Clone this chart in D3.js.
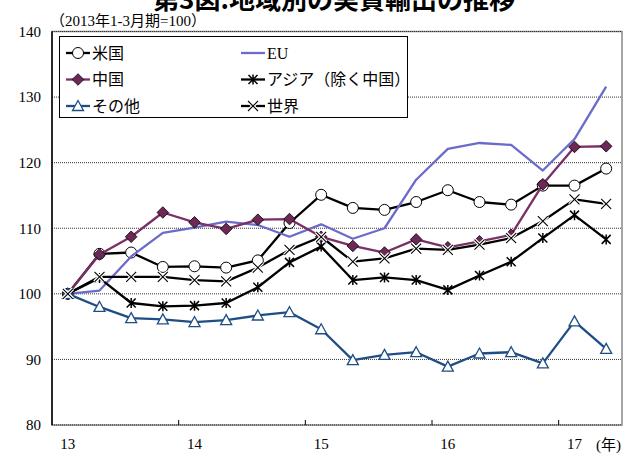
<!DOCTYPE html>
<html>
<head>
<meta charset="utf-8">
<script src="https://cdn.jsdelivr.net/npm/d3@7"></script>
<style>
  html, body { margin: 0; padding: 0; background: #fff; }
  svg { display: block; }
  .serif { font-family: "Liberation Serif", "Times New Roman", "Noto Sans CJK JP", serif; }
</style>
</head>
<body>
<svg id="chart" width="629" height="454"></svg>
<script>
// Quarterly real export indices by destination (2013 Q1 = 100)
const quarters = [
  "2013Q1","2013Q2","2013Q3","2013Q4",
  "2014Q1","2014Q2","2014Q3","2014Q4",
  "2015Q1","2015Q2","2015Q3","2015Q4",
  "2016Q1","2016Q2","2016Q3","2016Q4",
  "2017Q1","2017Q2"
];
const yearLabels = ["13", "14", "15", "16", "17"];
const yTicks = [80, 90, 100, 110, 120, 130, 140];

const usa   = [100, 106.1, 106.3, 104.1, 104.2, 104.0, 105.1, 110.8, 115.1, 113.1, 112.8, 114.0, 115.8, 114.0, 113.6, 116.5, 116.5, 119.1];
const eu    = [100, 100.5, 105.7, 109.3, 110.1, 111.0, 110.5, 108.7, 110.6, 108.4, 110.0, 117.4, 122.1, 123.0, 122.7, 118.8, 123.6, 131.6];
const china = [100, 106.0, 108.7, 112.4, 110.9, 109.9, 111.3, 111.4, 108.7, 107.3, 106.3, 108.3, 107.1, 108.0, 109.0, 116.7, 122.4, 122.5];
const asia  = [100, 102.4, 98.6, 98.1, 98.2, 98.6, 101.0, 104.8, 107.2, 102.1, 102.5, 102.1, 100.6, 102.8, 104.9, 108.5, 112.0, 108.3];
const other = [100, 98.0, 96.3, 96.1, 95.7, 96.0, 96.7, 97.2, 94.6, 89.9, 90.7, 91.1, 88.9, 90.9, 91.1, 89.4, 95.8, 91.6];
const world = [100, 102.6, 102.6, 102.6, 102.1, 101.9, 104.0, 106.7, 108.7, 104.9, 105.4, 106.9, 106.7, 107.5, 108.5, 111.1, 114.4, 113.7];

const seriesNames = ["米国", "EU", "中国", "アジア（除く中国）", "その他", "世界"];

const svg = d3.select("#chart");
const plotLeft = 52, plotRight = 622, plotTop = 31.5, plotBottom = 425;

const x = d3.scaleBand().domain(quarters).range([plotLeft, plotRight]);
const xc = q => x(q) + x.bandwidth() / 2;
const y = d3.scaleLinear().domain([80, 140]).range([plotBottom, plotTop]);

// Marker shapes
function drawMarker(g, kind, cx, cy) {
  if (kind === "circle") {
    g.append("circle").attr("cx", cx).attr("cy", cy).attr("r", 5.5)
      .attr("fill", "#fff").attr("stroke", "#000").attr("stroke-width", 1);
  } else if (kind === "diamond") {
    const r = 5.8;
    g.append("path")
      .attr("d", `M${cx},${cy - r}L${cx + r},${cy}L${cx},${cy + r}L${cx - r},${cy}Z`)
      .attr("fill", "#6E2858").attr("stroke", "#000").attr("stroke-width", 0.8);
  } else if (kind === "star") {
    const r = 4.5;
    g.append("path")
      .attr("d", `M${cx - r},${cy - r}L${cx + r},${cy + r}M${cx - r},${cy + r}L${cx + r},${cy - r}M${cx},${cy - r - 0.5}L${cx},${cy + r + 0.5}`)
      .attr("stroke", "#000").attr("stroke-width", 1.5).attr("fill", "none");
  } else if (kind === "triangle") {
    const w = 5.5, h1 = 5.5, h2 = 4.5;
    g.append("path")
      .attr("d", `M${cx},${cy - h1}L${cx + w},${cy + h2}L${cx - w},${cy + h2}Z`)
      .attr("fill", "#fff").attr("stroke", "#1F4E85").attr("stroke-width", 1.3);
  } else if (kind === "cross") {
    const r = 5;
    const d = `M${cx - r},${cy - r}L${cx + r},${cy + r}M${cx - r},${cy + r}L${cx + r},${cy - r}`;
    g.append("path").attr("d", d).attr("stroke", "#fff").attr("stroke-width", 3.5).attr("fill", "none");
    g.append("path").attr("d", d).attr("stroke", "#000").attr("stroke-width", 1.1).attr("fill", "none");
  }
}

const series = [
  { name: seriesNames[0], values: usa,   color: "#000",    marker: "circle" },
  { name: seriesNames[1], values: eu,    color: "#6B6BCB", marker: null },
  { name: seriesNames[2], values: china, color: "#7A3065", marker: "diamond" },
  { name: seriesNames[3], values: asia,  color: "#000",    marker: "star" },
  { name: seriesNames[4], values: other, color: "#1F4E85", marker: "triangle" },
  { name: seriesNames[5], values: world, color: "#000",    marker: "cross" }
];

// Title (sits partly above the top edge) and unit note
svg.append("text")
  .attr("x", 334).attr("y", 9)
  .attr("text-anchor", "middle")
  .attr("font-family", "'Noto Sans CJK JP', sans-serif")
  .attr("font-weight", "bold").attr("font-size", 26)
  .text("第3図:地域別の実質輸出の推移");

svg.append("text").attr("class", "serif")
  .attr("x", 50).attr("y", 26)
  .attr("font-size", 15)
  .text("（2013年1-3月期=100）");

// Plot frame and gridlines
svg.append("rect")
  .attr("x", plotLeft).attr("y", plotTop).attr("width", plotRight - plotLeft).attr("height", plotBottom - plotTop)
  .attr("fill", "#fff").attr("stroke", "#888").attr("stroke-width", 1.5);

svg.append("g").selectAll("line").data(yTicks).join("line")
  .attr("x1", plotLeft).attr("x2", plotRight)
  .attr("y1", d => y(d)).attr("y2", d => y(d))
  .attr("stroke", "#333").attr("stroke-width", 1).attr("stroke-dasharray", "1,1");

svg.append("line")
  .attr("x1", plotLeft).attr("x2", plotLeft).attr("y1", plotTop).attr("y2", plotBottom)
  .attr("stroke", "#000").attr("stroke-width", 1.5);

// Y axis labels
const yAxis = svg.append("g")
  .attr("transform", `translate(${plotLeft},0)`)
  .call(d3.axisLeft(y).tickValues(yTicks).tickSize(0).tickPadding(11).tickFormat(d3.format("d")));
yAxis.select(".domain").remove();
yAxis.selectAll("text").attr("font-size", 15).attr("font-family", "'Liberation Serif', serif").attr("fill", "#000");

// X axis: year labels at first quarters, ticks at year boundaries
const firstQuarters = quarters.filter((q, i) => i % 4 === 0);
const xAxis = svg.append("g")
  .attr("transform", `translate(0,${plotBottom})`)
  .call(d3.axisBottom(x).tickValues(firstQuarters).tickSize(0).tickPadding(13)
    .tickFormat((q, i) => yearLabels[i]));
xAxis.select(".domain").remove();
xAxis.selectAll("text").attr("font-size", 15).attr("font-family", "'Liberation Serif', serif").attr("fill", "#000");

svg.append("g").selectAll("line").data(firstQuarters.slice(1)).join("line")
  .attr("x1", d => x(d)).attr("x2", d => x(d))
  .attr("y1", plotBottom).attr("y2", plotBottom - 5)
  .attr("stroke", "#000").attr("stroke-width", 1);

svg.append("text").attr("class", "serif")
  .attr("x", 596).attr("y", 450)
  .attr("font-size", 15)
  .text("(年)");

// Series lines and markers
const line = d3.line().x((d, i) => xc(quarters[i])).y(d => y(d));
series.forEach(s => {
  const g = svg.append("g");
  g.append("path").datum(s.values)
    .attr("d", line).attr("fill", "none")
    .attr("stroke", s.color).attr("stroke-width", 2.3).attr("stroke-linejoin", "round");
  if (s.marker) {
    s.values.forEach((v, i) => drawMarker(g, s.marker, xc(quarters[i]), y(v)));
  }
});

// Legend
const lg = svg.append("g");
lg.append("rect").attr("x", 59.5).attr("y", 36.5).attr("width", 348).attr("height", 81)
  .attr("fill", "#fff").attr("stroke", "#000").attr("stroke-width", 1);
const colX = [66, 241], rowY = [53, 79.5, 106];
series.forEach((s, i) => {
  const cx = colX[i % 2], cy = rowY[Math.floor(i / 2)];
  const g = lg.append("g");
  g.append("line").attr("x1", cx).attr("x2", cx + 24).attr("y1", cy).attr("y2", cy)
    .attr("stroke", s.color).attr("stroke-width", 2.3);
  if (s.marker) drawMarker(g, s.marker, cx + 12, cy);
  g.append("text").attr("class", "serif")
    .attr("x", cx + 26).attr("y", cy + 5.5)
    .attr("font-size", 16)
    .text(s.name);
});
</script>
</body>
</html>
